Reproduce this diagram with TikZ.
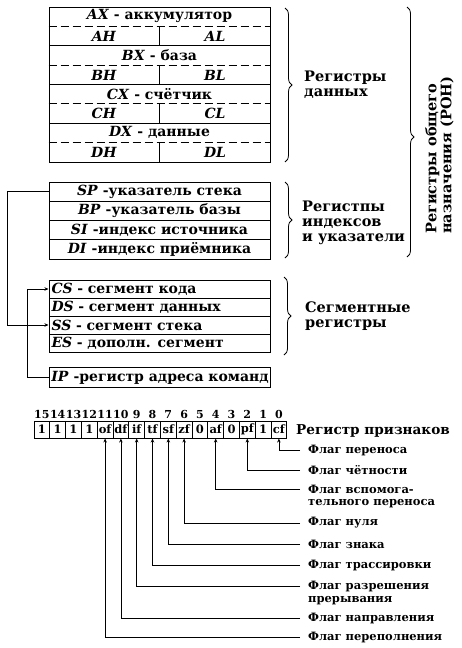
\documentclass[tikz,border=0pt]{standalone}
\usepackage{fontspec}
\setmainfont{DejaVu Serif}
\usetikzlibrary{positioning,calc,arrows.meta,decorations.pathreplacing}

\tikzset{
  regbox/.style={draw, line width=1pt, minimum width=221pt, minimum height=19.25pt,
                 inner sep=0pt, font=\bfseries\fontsize{14}{16}\selectfont},
  segbox/.style={regbox, minimum height=18pt, text width=216pt, inner xsep=2.5pt, align=left},
  datbox/.style={draw, line width=1pt, minimum width=221pt, minimum height=38.75pt, inner sep=0pt},
  regtext/.style={font=\bfseries\fontsize{14}{16}\selectfont, inner sep=0pt},
  bracetext/.style={anchor=west, align=left, inner sep=0pt, font=\bfseries\fontsize{14.5}{15}\selectfont},
  regbrace/.style={decorate, decoration={brace, amplitude=7pt}, line width=0.8pt},
  flagcell/.style={draw, line width=1pt, minimum width=15.8pt, minimum height=17pt, inner sep=0pt,
                   font=\bfseries\fontsize{11.5}{13}\selectfont},
  bitnum/.style={anchor=south, inner sep=1.5pt, font=\bfseries\fontsize{11}{12}\selectfont},
  flaglbl/.style={anchor=west, inner xsep=8pt, inner ysep=0pt, font=\bfseries\fontsize{11.5}{13}\selectfont},
  flagarrow/.style={->, line width=0.8pt}
}

\begin{document}
\begin{tikzpicture}[x=1pt, y=-1pt, >={Stealth[length=4pt,width=3.5pt]}]
  \useasboundingbox (0,0) rectangle (461,648);

  % data registers
  \foreach \r/\desc [count=\i from 0] in {A/аккумулятор, B/база, C/счётчик, D/данные}
  {
    \node[datbox] (\r x) at (159.5,{7+38.75*\i+19.375}) {};
    \node[regtext] at ($(\r x.north)!0.25!(\r x.south)$) {\textit{\r X} - \desc};
    \draw[dashed, dash pattern=on 8pt off 4pt, line width=0.8pt] (\r x.west) -- (\r x.east);
    \draw[line width=0.8pt] (\r x.center) -- (\r x.south);
    \node[regtext] at ($(\r x.west)!0.5!(\r x.south)$) {\textit{\r H}};
    \node[regtext] at ($(\r x.east)!0.5!(\r x.south)$) {\textit{\r L}};
  }

  % index and pointer registers
  \foreach \n/\t/\d [count=\i from 0] in {sp/SP/указатель стека, bp/BP/указатель базы,
                                          si/SI/индекс источника, di/DI/индекс приёмника}
    \node[regbox] (\n) at (159.5,{182+19.25*\i+9.625}) {\textit{\t} -\d};

  % segment registers
  \foreach \n/\t/\d [count=\i from 0] in {cs/CS/сегмент кода, ds/DS/сегмент данных,
                                          ss/SS/сегмент стека, es/ES/дополн. сегмент}
    \node[segbox] (\n) at (159.5,{280+18*\i+9}) {\textit{\t} - \d};

  \node[regbox] (ip) at (160,377.5) {\textit{IP} -регистр адреса команд};

  \draw[flagarrow] (sp.west) -- ++(-41,0) |- (ss.west);
  \draw[flagarrow] (ip.west) -- ++(-22,0) |- (cs.west);

  % braces
  \draw[regbrace] (285,8) -- (285,162);
  \draw[regbrace] (285,182) -- (285,258);
  \draw[regbrace] (284,277) -- (284,355);
  \draw[regbrace, decoration={aspect=0.52}] (407,7) -- (407,257);

  \node[bracetext] (datlbl) at (304,85) {Регистры\\данных};
  \node[bracetext] (idxlbl) at (302,223) {Регистпы\\индексов\\и указатели};
  \node[bracetext] (seglbl) at (305,316) {Сегментные\\регистры};
  \node[bracetext, anchor=north west, rotate=90] (ronlbl) at (425,234) {Регистры общего\\назначения (РОН)};

  % flag register
  \foreach \v [count=\i from 0] in {1,1,1,1,of,df,if,tf,sf,zf,0,af,0,pf,1,cf}
  {
    \pgfmathtruncatemacro\bit{15-\i}
    \node[flagcell] (b\bit) at ({34+15.8*\i+7.9},429.5) {\v};
    \node[bitnum] at (b\bit.north) {\bit};
  }
  \node[anchor=west, inner sep=0pt, font=\bfseries\fontsize{13.6}{15}\selectfont] (flaglbl) at (296,431) {Регистр признаков};

  \node[flaglbl] (fcf) at (300,450) {Флаг переноса};
  \node[flaglbl] (fpf) at (300,470) {Флаг чётности};
  \node[flaglbl] (faf) at (300,489) {Флаг вспомога-};
  \node[flaglbl] (faf2) at (300,503.5) {тельного переноса};
  \node[flaglbl] (fzf) at (300,523) {Флаг нуля};
  \node[flaglbl] (fsf) at (300,544) {Флаг знака};
  \node[flaglbl] (ftf) at (300,565) {Флаг трассировки};
  \node[flaglbl] (fif) at (300,586) {Флаг разрешения};
  \node[flaglbl] (fif2) at (300,600.5) {прерывания};
  \node[flaglbl] (fdf) at (300,618) {Флаг направления};
  \node[flaglbl] (fof) at (300,637) {Флаг переполнения};

  \foreach \f/\b in {cf/0, pf/2, af/4, zf/6, sf/7, tf/8, if/9, df/10, of/11}
    \draw[flagarrow] (f\f.west) -| (b\b.south);
\end{tikzpicture}
\end{document}
